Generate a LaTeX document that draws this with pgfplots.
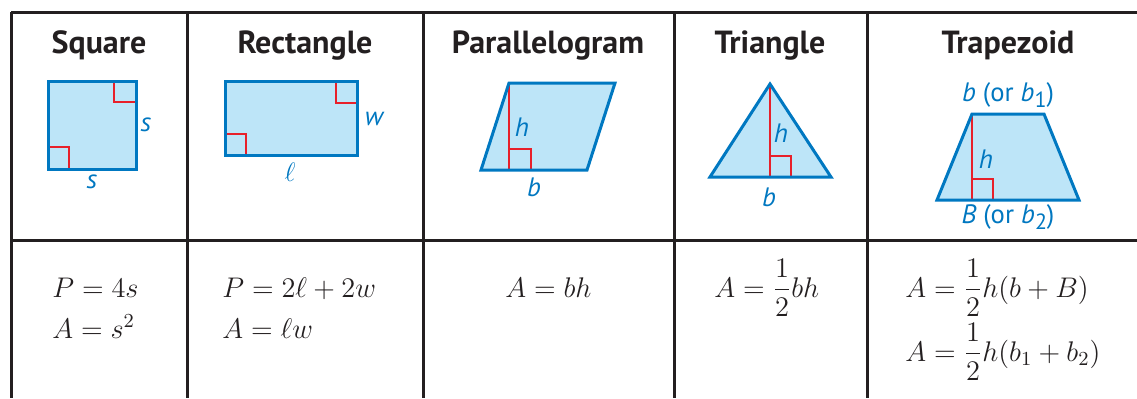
\documentclass[border=0pt]{standalone}
\usepackage{fix-cm}
\usepackage{amsmath}
\usepackage{fontspec}
\setmainfont{PT Sans}
\usepackage{pgfplots}
\pgfplotsset{compat=1.18}
\definecolor{gridc}{RGB}{35,31,32}
\definecolor{shapeblue}{RGB}{0,120,193}
\definecolor{fillblue}{RGB}{189,229,248}
\definecolor{redm}{RGB}{232,32,42}
\definecolor{labblue}{RGB}{0,119,192}
\tikzset{
  gridl/.style={draw=gridc, line width=1.5pt, no markers},
  shfill/.style={fill=fillblue, draw=none, no markers},
  shdraw/.style={draw=shapeblue, line width=1.5pt, line join=miter, no markers},
  rmark/.style={draw=redm, line width=1pt, no markers},
  ttl/.style={anchor=base, text=gridc, font=\fontsize{16}{19}\selectfont\bfseries},
  lab/.style={text=labblue, font=\fontsize{13.3}{15}\selectfont\itshape},
  frm/.style={anchor=base west, inner sep=0pt, text=gridc, font=\fontsize{14.2}{17}\selectfont},
}
\newcommand{\sub}[1]{\raisebox{-0.45ex}{\fontsize{11}{11}\selectfont\upshape #1}}
\begin{document}
\begin{tikzpicture}
\begin{axis}[hide axis, scale only axis, width=568.5pt, height=199pt,
  xmin=0, xmax=1137, ymin=0, ymax=398, y dir=reverse, clip=true]
% table grid
\addplot[gridl] coordinates {(11,12) (1137,12)};
\addplot[gridl] coordinates {(11,240) (1137,240)};
\addplot[gridl] coordinates {(11,12) (11,398)};
\addplot[gridl] coordinates {(187,12) (187,398)};
\addplot[gridl] coordinates {(423,12) (423,398)};
\addplot[gridl] coordinates {(674,12) (674,398)};
\addplot[gridl] coordinates {(867,12) (867,398)};
% square
\addplot[shfill] coordinates {(48,81) (136,81) (136,169) (48,169)} --cycle;
\addplot[rmark] coordinates {(114,81) (114,102) (136,102)};
\addplot[rmark] coordinates {(48,147) (69,147) (69,169)};
\addplot[shdraw] coordinates {(48,81) (136,81) (136,169) (48,169)} --cycle;
% rectangle
\addplot[shfill] coordinates {(225,81) (357,81) (357,155) (225,155)} --cycle;
\addplot[rmark] coordinates {(336,81) (336,103) (357,103)};
\addplot[rmark] coordinates {(225,134) (246,134) (246,155)};
\addplot[shdraw] coordinates {(225,81) (357,81) (357,155) (225,155)} --cycle;
% parallelogram
\addplot[shfill] coordinates {(481,170) (587,170) (615,83) (509,83)} --cycle;
\addplot[rmark] coordinates {(509,83) (509,170)};
\addplot[rmark] coordinates {(509,149) (531,149) (531,170)};
\addplot[shdraw] coordinates {(481,170) (587,170) (615,83) (509,83)} --cycle;
% triangle
\addplot[shfill] coordinates {(710,177) (831,177) (770,84)} --cycle;
\addplot[rmark] coordinates {(770,84) (770,177)};
\addplot[rmark] coordinates {(770,156) (791,156) (791,177)};
\addplot[shdraw] coordinates {(710,177) (831,177) (770,84)} --cycle;
% trapezoid
\addplot[shfill] coordinates {(937,200) (1079,200) (1044,114) (972,114)} --cycle;
\addplot[rmark] coordinates {(972,114) (972,200)};
\addplot[rmark] coordinates {(972,179) (993,179) (993,200)};
\addplot[shdraw] coordinates {(937,200) (1079,200) (1044,114) (972,114)} --cycle;
% titles
\node[ttl] at (axis cs:99,53) {Square};
\node[ttl] at (axis cs:305,53) {Rectangle};
\node[ttl] at (axis cs:548,53) {Parallelogram};
\node[ttl] at (axis cs:770,53) {Triangle};
\node[ttl] at (axis cs:1008,53) {Trapezoid};
% labels
\node[lab] at (axis cs:146,125) {s};
\node[lab] at (axis cs:92,182) {s};
\node[lab] at (axis cs:374,119) {w};
\node[lab] at (axis cs:290,172) {$\ell$};
\node[lab] at (axis cs:522,127) {h};
\node[lab] at (axis cs:534,187) {b};
\node[lab] at (axis cs:781,133) {h};
\node[lab] at (axis cs:769,197) {b};
\node[lab] at (axis cs:986,159) {h};
\node[lab] at (axis cs:1008,95) {b {\upshape(or} b\sub{1}{\upshape)}};
\node[lab] at (axis cs:1008,217) {B {\upshape(or} b\sub{2}{\upshape)}};
% formulas
\node[frm] at (axis cs:52,297) {$P = 4s$};
\node[frm] at (axis cs:52,338) {$A = s^2$};
\node[frm] at (axis cs:222,297) {$P = 2\ell + 2w$};
\node[frm] at (axis cs:222,338) {$A = \ell w$};
\node[frm] at (axis cs:505,297) {$A = bh$};
\node[frm] at (axis cs:714,297) {$A = \dfrac{1}{2}bh$};
\node[frm] at (axis cs:905,297) {$A = \dfrac{1}{2}h(b + B)$};
\node[frm] at (axis cs:905,361) {$A = \dfrac{1}{2}h(b_1 + b_2)$};
\end{axis}
\pgfresetboundingbox
\useasboundingbox (current axis.south west) rectangle (current axis.north east);
\end{tikzpicture}
\end{document}
